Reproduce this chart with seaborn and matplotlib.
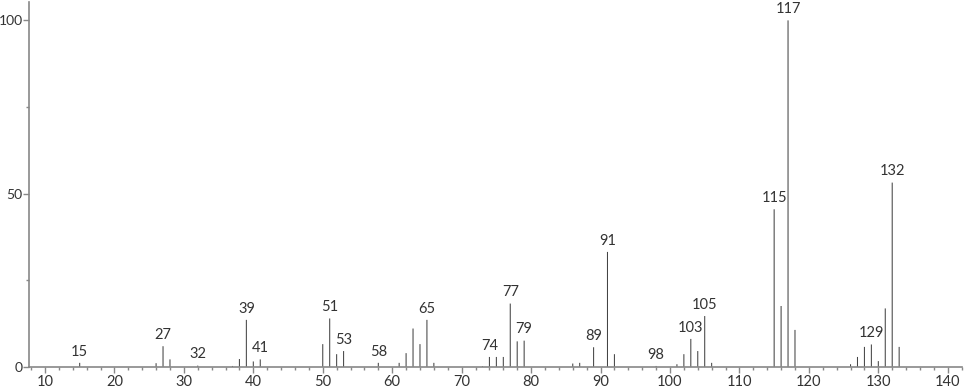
import matplotlib
matplotlib.use("Agg")
import matplotlib.pyplot as plt
from matplotlib.ticker import MultipleLocator
import seaborn as sns
import pandas as pd

mz = [15, 26, 27, 28, 32, 37, 38, 39, 40, 41, 50, 51, 52, 53, 58, 61, 62, 63, 64, 65,
      66, 73, 74, 75, 76, 77, 78, 79, 86, 87, 89, 91, 92, 98, 101, 102, 103, 104, 105,
      106, 115, 116, 117, 118, 126, 127, 128, 129, 130, 131, 132, 133]
intensity = [1.2, 1.1, 6.0, 2.2, 0.4, 0.3, 2.3, 13.6, 1.6, 2.2, 6.6, 14.0, 3.7, 4.6, 1.2,
             1.2, 4.0, 11.1, 6.6, 13.6, 1.2, 0.2, 2.9, 2.9, 2.9, 18.3, 7.4, 7.6, 1.0, 1.2,
             5.7, 33.2, 3.7, 0.3, 0.8, 3.7, 8.1, 4.6, 14.7, 1.2, 45.5, 17.6, 100.0, 10.7,
             0.8, 2.9, 5.8, 6.5, 1.7, 16.9, 53.2, 5.8]
labeled = [15, 27, 32, 39, 41, 51, 53, 58, 65, 74, 77, 79, 89, 91, 98, 103, 105, 115,
           117, 129, 132]

df = pd.DataFrame({"mz": mz, "intensity": intensity})

sns.set_style("ticks")
plt.rcParams['font.family'] = ['Lato', 'DejaVu Sans']

fig = plt.figure(figsize=(9.66, 3.89), dpi=100)
ax = fig.add_axes([29 / 966, 22 / 389, 933 / 966, 365 / 389])

sns.barplot(data=df, x="mz", y="intensity", native_scale=True, width=0.15,
            color="#444444", saturation=1, linewidth=0, ax=ax)
for p in ax.patches:
    p.set_snap(False)

for m, v in zip(mz, intensity):
    if m in labeled:
        ax.text(m, v + 1.2, str(m), ha="center", va="bottom", fontsize=10.5,
                color="#333333")

ax.set_xlim(7.7, 142.05)
ax.set_ylim(0, 105.3)
ax.set_xlabel("")
ax.set_ylabel("")
ax.xaxis.set_major_locator(MultipleLocator(10))
ax.xaxis.set_minor_locator(MultipleLocator(2))
ax.yaxis.set_major_locator(MultipleLocator(50))
ax.yaxis.set_minor_locator(MultipleLocator(25))
ax.tick_params(axis="x", which="major", length=4, width=1, color="#888888",
               labelsize=10.5, labelcolor="#333333", pad=2)
ax.tick_params(axis="y", which="major", length=4, width=1, color="#888888",
               labelsize=10, labelcolor="#333333", pad=0.5)
ax.tick_params(axis="both", which="minor", length=2.5, width=1, color="#888888")
for s in ["top", "right"]:
    ax.spines[s].set_visible(False)
for s in ["left", "bottom"]:
    ax.spines[s].set_color("#888888")
    ax.spines[s].set_linewidth(1.2)

fig.savefig("out.png", dpi=100)
